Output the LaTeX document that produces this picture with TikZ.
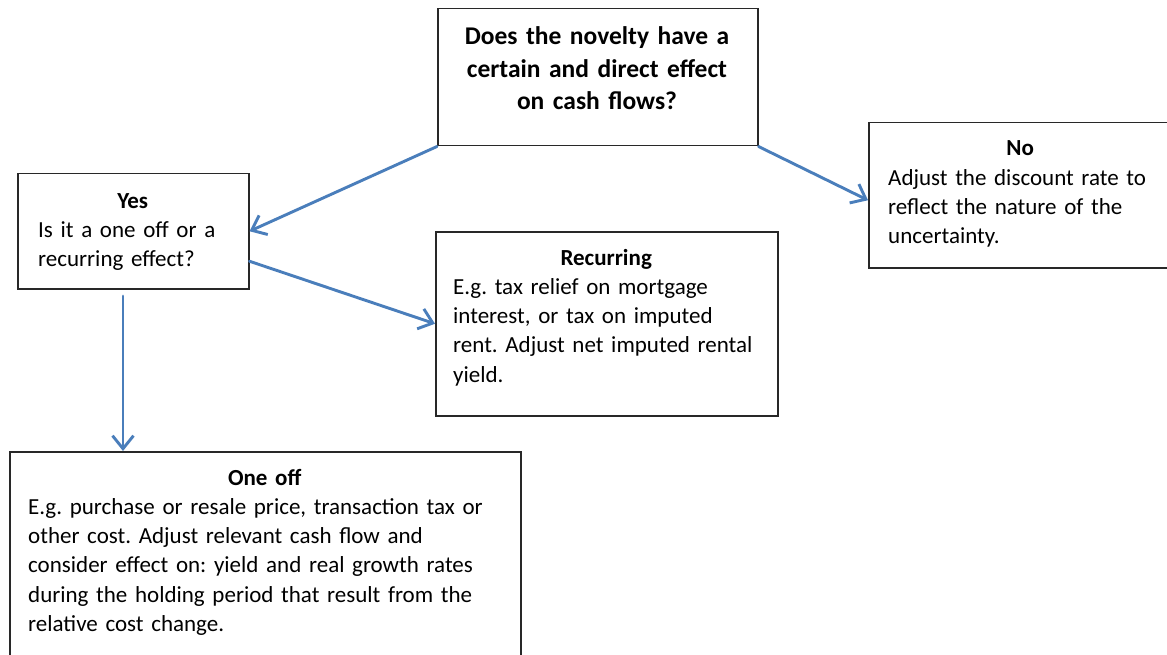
\documentclass[tikz,border=0pt]{standalone}
\usepackage{fontspec}
\setmainfont{Carlito}
\usetikzlibrary{arrows.meta,calc}
\definecolor{arrowblue}{RGB}{74,126,187}
\definecolor{boxline}{RGB}{40,40,40}
\frenchspacing
\begin{document}
\begin{tikzpicture}[x=1pt,y=-1pt,
  box/.style={draw=boxline, line width=1.5pt, fill=white, inner sep=0pt, anchor=north west},
  txt/.style={anchor=base west, inner sep=0pt, font=\fontsize{23}{29.3}\selectfont\frenchspacing},
  conn/.style={draw=arrowblue, line width=2.9pt, line cap=round,
    -{Straight Barb[length=13pt,width=21pt,line width=2.9pt]}}]
\useasboundingbox (0,0) rectangle (1167,655);
\clip (0,0) rectangle (1167,655);
\fill[white] (0,0) rectangle (1167,655);
% boxes
\node[box, minimum width=320pt, minimum height=137pt] (q) at (437,8) {};
\node[box, minimum width=231pt, minimum height=115pt] (yes) at (17,173) {};
\node[box, minimum width=342pt, minimum height=184pt] (rec) at (435,231) {};
\node[box, minimum width=304pt, minimum height=145pt] (no) at (868,122) {};
\node[box, minimum width=511pt, minimum height=240pt] (one) at (9,451) {};
% texts
\node[anchor=base, inner sep=0pt, text width=310pt, align=center,
  font=\bfseries\fontsize{25.5}{32.5}\selectfont] (qt) at (597,45)
  {Does the novelty have a\\certain and direct effect\\on cash flows?};
\node[txt, text width=189pt] (yest) at (38,208)
  {\raggedright{\centering\bfseries Yes\par}Is it a one off or a\\recurring effect?};
\node[txt, text width=264pt] (not) at (888,156)
  {\raggedright{\centering\bfseries No\par}Adjust the discount rate to\\reflect the nature of the\\uncertainty.};
\node[txt, text width=306pt] (rect) at (453,265)
  {\raggedright{\centering\bfseries Recurring\par}E.g. tax relief on mortgage\\interest, or tax on imputed\\rent. Adjust net imputed rental\\yield.};
\node[txt, text width=473pt] (onet) at (28,485)
  {\raggedright{\centering\bfseries One off\par}E.g. purchase or resale price, transaction tax or\\other cost. Adjust relevant cash flow and\\consider effect on: yield and real growth rates\\during the holding period that result from the\\relative cost change.};
% connectors
\coordinate (vs) at (123,296);
\draw[conn] (q.south west) -- (yes.east);
\draw[conn] (q.south east) -- ($(no.west)+(0,5)$);
\draw[conn] ($(yes.east)+(0,30)$) -- (rec.west);
\draw[conn] (vs) -- (vs |- one.north);
\end{tikzpicture}
\end{document}
